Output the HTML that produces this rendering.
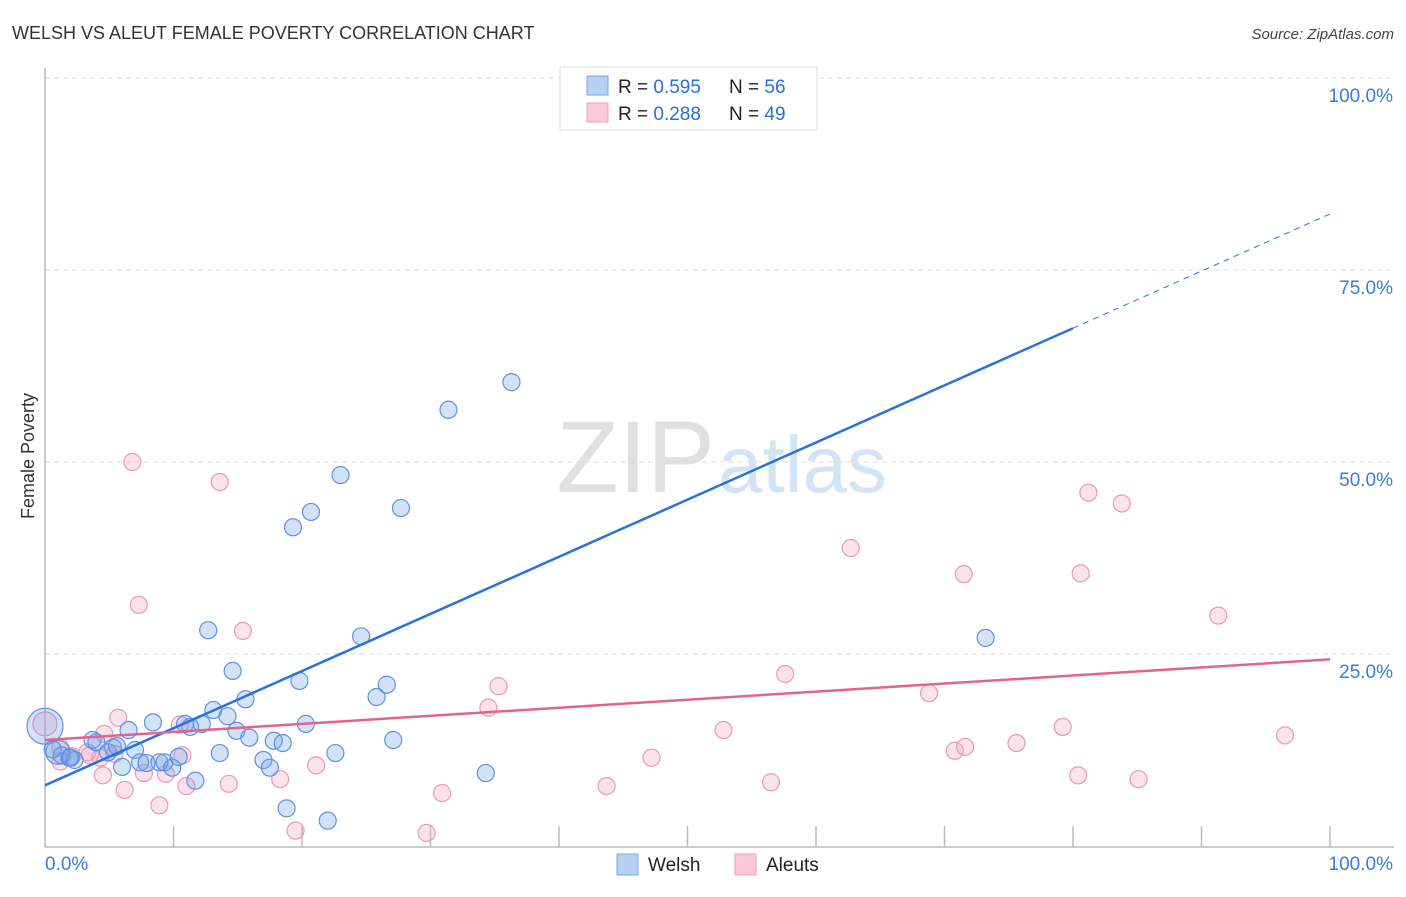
<!DOCTYPE html>
<html><head><meta charset="utf-8"><style>
body{margin:0;background:#fff;font-family:"Liberation Sans",sans-serif;}
svg text{font-family:"Liberation Sans",sans-serif;}
</style></head><body>
<svg width="1406" height="892">
<text x="12" y="39" font-size="18" fill="#333">WELSH VS ALEUT FEMALE POVERTY CORRELATION CHART</text>
<text x="1394" y="39" font-size="15" fill="#444" font-style="italic" text-anchor="end">Source: ZipAtlas.com</text>
<text x="715" y="492" font-size="102" fill="#e0e0e0" text-anchor="end" font-family="Liberation Serif">ZIP</text>
<text x="718" y="492" font-size="80" fill="#d3e3f6">atlas</text>
<g id="grid"></g>
<g id="axes"></g>
<g id="pts"></g>
<g id="lines"></g>
<text transform="translate(34,456) rotate(-90)" font-size="18" fill="#333" text-anchor="middle">Female Poverty</text>
<g>
<rect x="560" y="67" width="257" height="63" fill="#fff" stroke="#ddd"/>
<rect x="587" y="76" width="21" height="19" fill="#b7d1f5" stroke="#7aa6e6"/>
<rect x="587" y="103" width="21" height="19" fill="#fcc9d8" stroke="#f0a0b8"/>
<text x="618" y="93" font-size="19" fill="#222">R = <tspan fill="#2a6fd6">0.595</tspan></text>
<text x="729" y="93" font-size="19" fill="#222">N = <tspan fill="#2a6fd6">56</tspan></text>
<text x="618" y="120" font-size="19" fill="#222">R = <tspan fill="#2a6fd6">0.288</tspan></text>
<text x="729" y="120" font-size="19" fill="#222">N = <tspan fill="#2a6fd6">49</tspan></text>
</g>
<g>
<rect x="617" y="854" width="21" height="21" fill="#b7d1f5" stroke="#7aa6e6"/>
<text x="648" y="871" font-size="19" fill="#222">Welsh</text>
<rect x="735" y="854" width="21" height="21" fill="#fcc9d8" stroke="#f0a0b8"/>
<text x="766" y="871" font-size="19" fill="#222">Aleuts</text>
</g>
</svg>
<script>
const yTicks=[25,50,75,100];
const yTickLabels=["25.0%","50.0%","75.0%","100.0%"];
const welshX=[0,1.0,1.3,1.9,2.3,3.7,4.0,5.3,4.9,5.6,6.5,7.0,6.0,7.4,7.9,8.9,9.3,9.9,10.4,8.4,10.9,11.3,11.7,12.2,12.7,13.1,13.6,14.2,14.6,14.9,15.6,15.9,17.0,17.5,17.8,18.5,18.8,19.3,19.8,20.3,20.7,22.0,22.6,23.0,24.6,25.8,26.6,27.1,27.7,31.4,34.3,36.3,54.2,73.2,0.6,2.0];
const welshY=[15.6,12.2,11.8,11.5,11.2,13.8,13.5,12.8,12.2,13.0,15.1,12.5,10.3,10.9,10.8,10.9,10.9,10.2,11.6,16.1,15.9,15.5,8.5,15.9,28.1,17.7,12.1,16.9,22.8,15.0,19.1,14.1,11.2,10.2,13.7,13.4,4.9,41.5,21.5,15.9,43.5,3.3,12.1,48.3,27.3,19.4,21.0,13.8,44.0,56.8,9.5,60.4,99.7,27.1,12.6,11.5];
const aleutX=[0,1.2,2.1,3.3,4.5,4.6,5.7,6.2,6.8,7.3,7.7,8.9,9.4,10.5,10.7,11.0,13.6,14.3,15.4,18.3,19.5,21.1,29.7,30.9,34.5,35.3,43.7,47.2,52.8,56.5,57.6,62.7,68.8,70.8,71.6,71.5,75.6,79.2,80.4,80.6,81.2,83.8,85.1,91.3,96.5,4.3,5.4,3.5,1.2];
const aleutY=[15.9,12.8,11.7,12.2,9.2,14.6,16.7,7.3,50.0,31.4,9.5,5.3,9.4,15.8,11.8,7.8,47.4,8.1,28.0,8.7,2.0,10.5,1.7,6.9,18.0,20.8,7.8,11.5,15.1,8.3,22.4,38.8,19.9,12.4,12.9,35.4,13.4,15.5,9.2,35.5,46.0,44.6,8.7,30.0,14.4,11.5,12.0,11.8,11.0];
const welshFit=[7.9,0.744];
const aleutFit=[13.8,0.105];
const X=v=>45+v*12.85, Y=v=>846-v*7.68;
const NS="http://www.w3.org/2000/svg";
function mk(t,a,p){const e=document.createElementNS(NS,t);for(const k in a)e.setAttribute(k,a[k]);p.appendChild(e);return e;}
const grid=document.getElementById('grid');
yTicks.forEach((t,i)=>{
 const l=mk('line',{x1:45,x2:1394,y1:Y(t),y2:Y(t),stroke:'#ddd','stroke-dasharray':'5,4'},grid);
 
 
 const tx=mk('text',{x:1393,y:Y(t)+24,'font-size':19,fill:'#3d7ad9','text-anchor':'end'},grid);
 tx.textContent=yTickLabels[i];
 
 
});
const ax=document.getElementById('axes');
mk('line',{x1:45,x2:45,y1:68,y2:847,stroke:'#bbb','stroke-width':1.5},ax);
mk('line',{x1:45,x2:1394,y1:847,y2:847,stroke:'#bbb','stroke-width':1.5},ax);
for(let i=1;i<=10;i++){const t=mk('line',{x1:X(i*10),x2:X(i*10),y1:826,y2:847,stroke:'#bbb','stroke-width':1.5},ax);}
let t0=mk('text',{x:45,y:870,'font-size':19,fill:'#3d7ad9'},ax);t0.textContent='0.0%';

let t1=mk('text',{x:1393,y:870,'font-size':19,fill:'#3d7ad9','text-anchor':'end'},ax);t1.textContent='100.0%';

const pts=document.getElementById('pts');
aleutX.forEach((x,i)=>{const c=mk('circle',{cx:X(x),cy:Y(aleutY[i]),r:i==0?12:8.5,fill:'rgba(245,160,190,0.3)',stroke:'#ec98b6','stroke-width':1.2},pts);
 
 });
welshX.forEach((x,i)=>{const c=mk('circle',{cx:X(x),cy:Y(welshY[i]),r:i==0?18:(i==1?12:8.5),fill:'rgba(110,160,235,0.3)',stroke:'#5d92e2','stroke-width':1.2},pts);
 
 });
const ln=document.getElementById('lines');
const f=(p,x)=>p[0]+p[1]*x;
let a=mk('line',{x1:X(0),y1:Y(f(welshFit,0)),x2:X(80),y2:Y(f(welshFit,80)),stroke:'#2a72d8','stroke-width':2.5},ln);


let b=mk('line',{x1:X(80),y1:Y(f(welshFit,80)),x2:X(100),y2:Y(f(welshFit,100)),stroke:'#2a72d8','stroke-width':1,'stroke-dasharray':'6,5'},ln);


let c=mk('line',{x1:X(0),y1:Y(f(aleutFit,0)),x2:X(100),y2:Y(f(aleutFit,100)),stroke:'#e4628f','stroke-width':2.5},ln);


</script>
</body></html>
